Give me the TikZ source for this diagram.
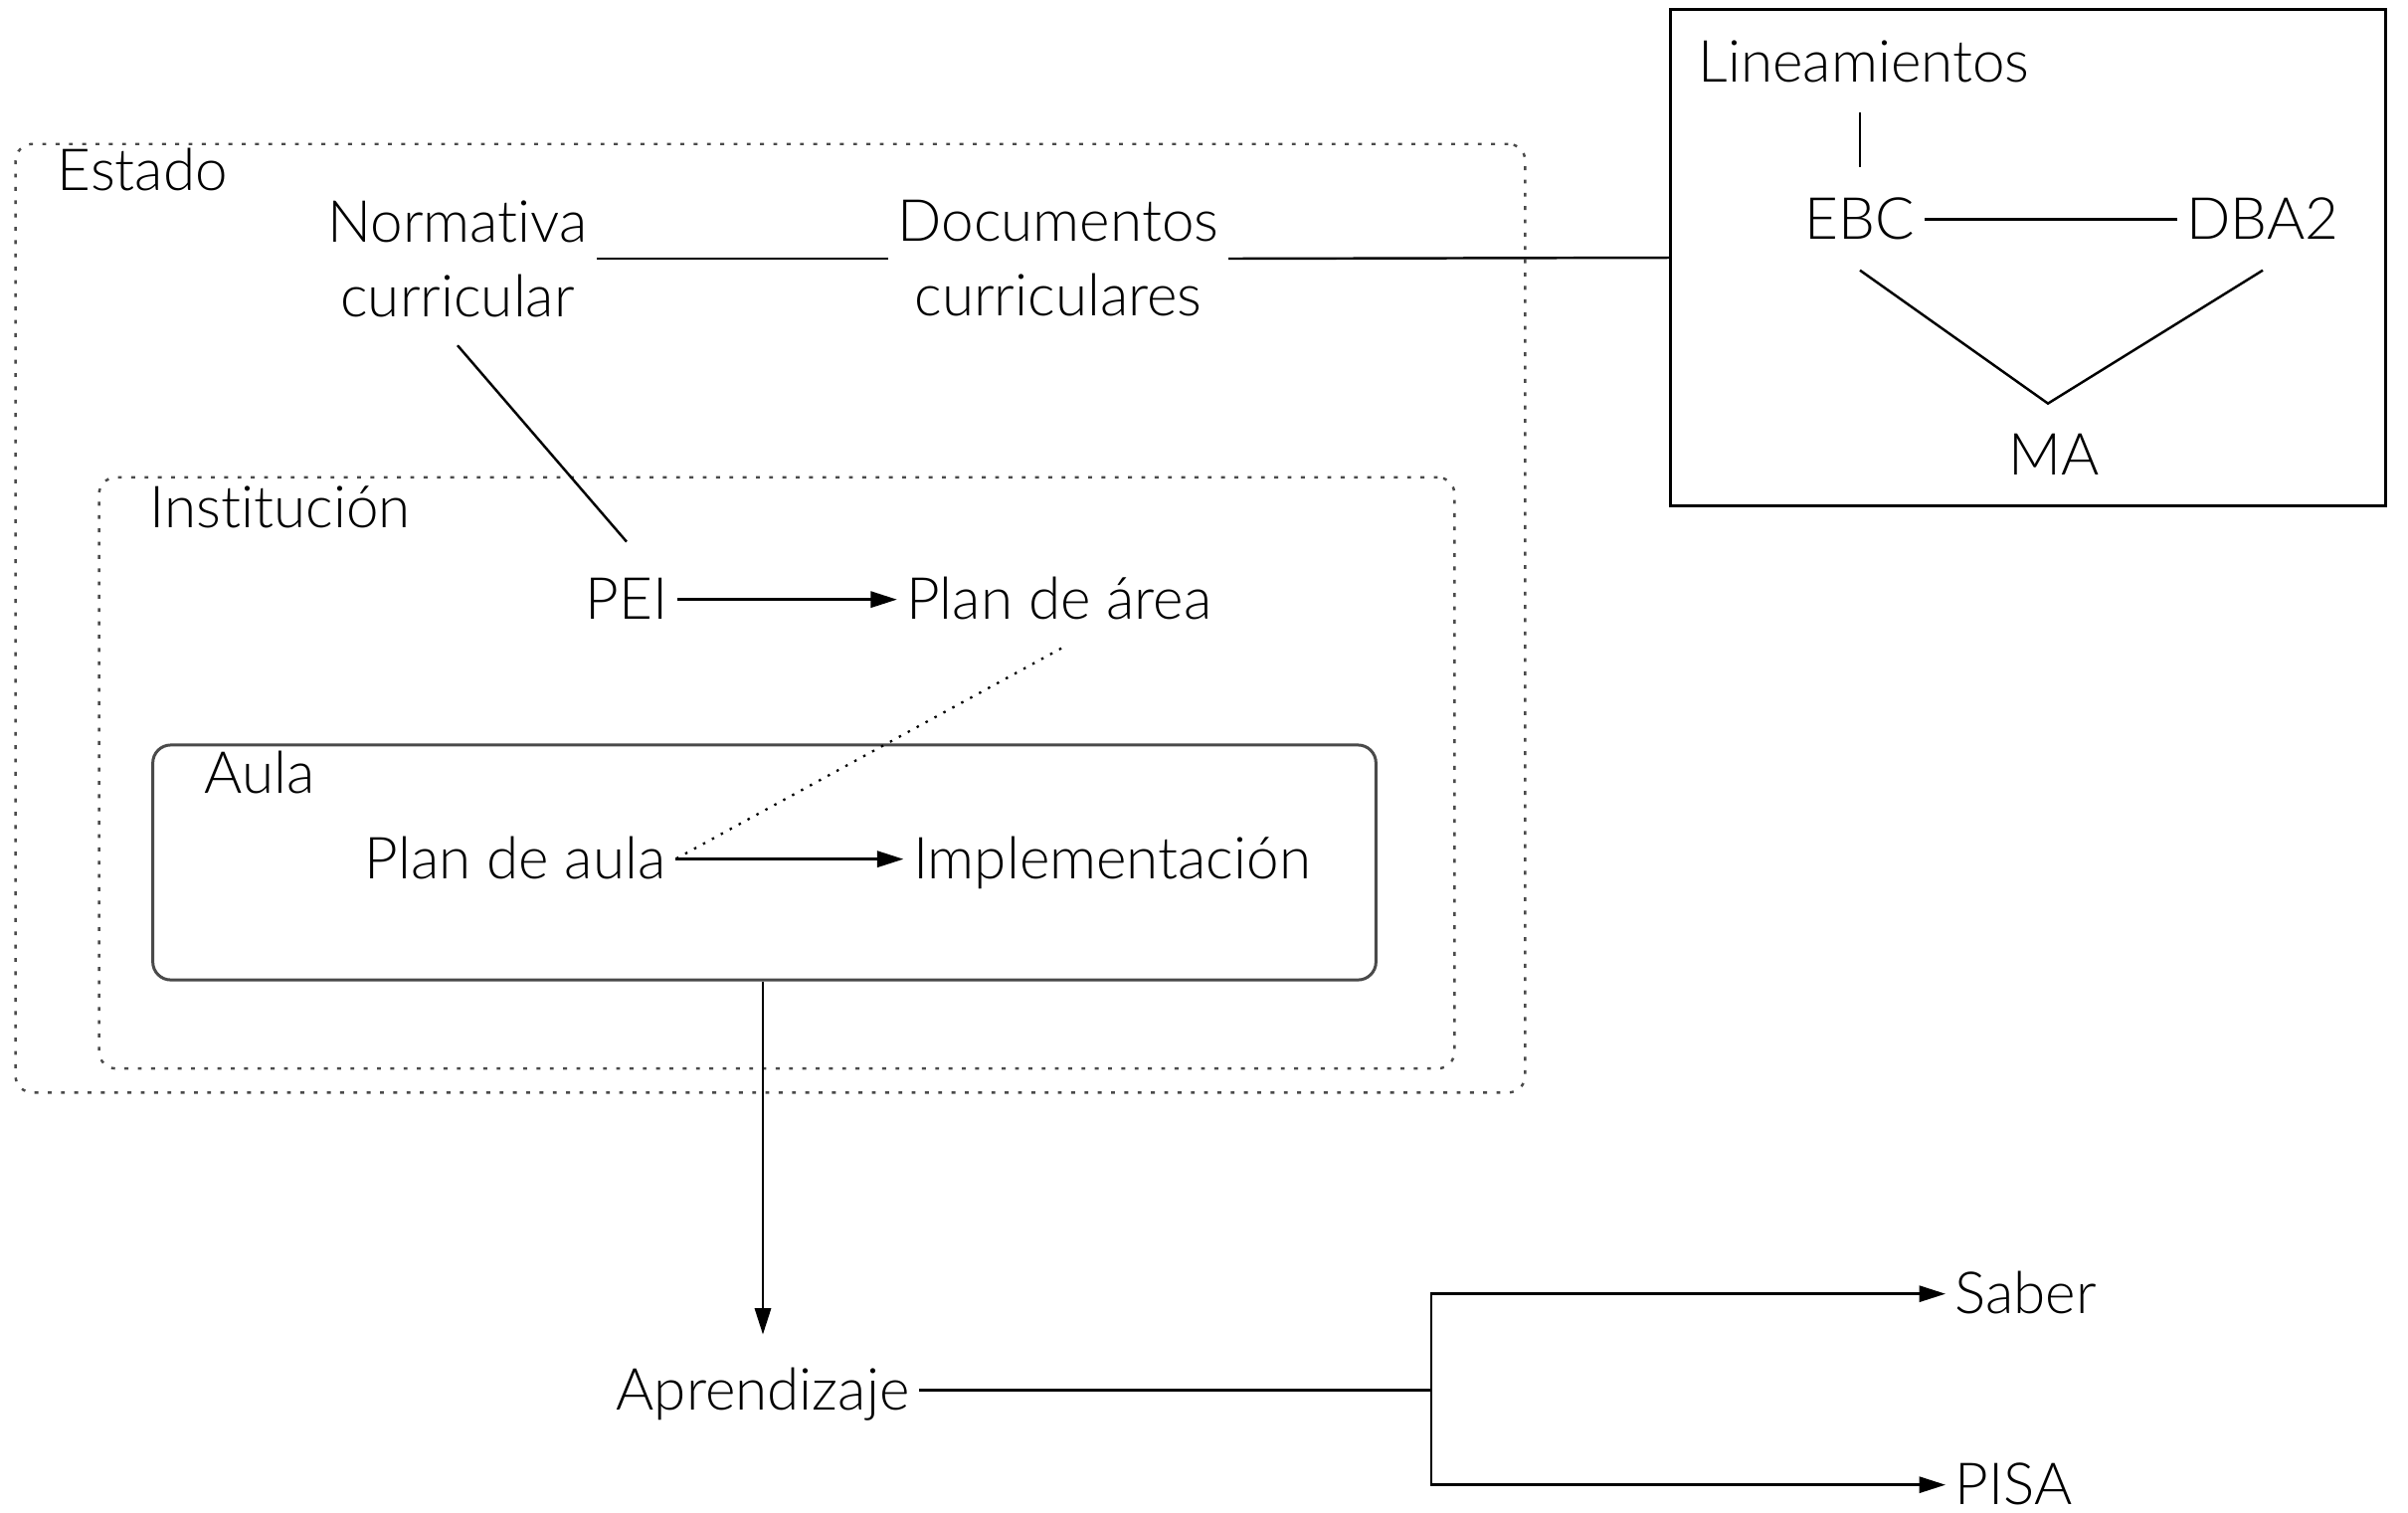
\documentclass[tikz,border=0pt]{standalone}
\usepackage{fontspec}
\setmainfont{Lato}[UprightFont={* Light}, Ligatures=NoCommon]
\usetikzlibrary{arrows.meta,calc}
\definecolor{zoneedge}{HTML}{4A4A4A}
\definecolor{aulaedge}{HTML}{4A4A4A}
\begin{document}
\begin{tikzpicture}[x=0.01cm,y=-0.01cm,
  txt/.style={font=\fontsize{16.6pt}{21.3pt}\selectfont, inner sep=0.09cm},
  lbl/.style={txt, text height=11pt, text depth=0pt},
  two/.style={txt, align=center},
  conn/.style={line width=0.7pt},
  arr/.style={conn, -{Triangle[length=7.5pt,width=4.6pt]}},
  zone/.style={draw=zoneedge, line width=0.7pt, dash pattern=on 1.1pt off 2.7pt, rounded corners=0.17cm},
  dots/.style={line width=0.65pt, dash pattern=on 0.7pt off 2.2pt}
]
\useasboundingbox (0,0) rectangle (2421,1520);

% nested frames
\node[zone, minimum width=15.17cm, minimum height=9.53cm] (estado) at (774.5,621.5) {};
\node[zone, minimum width=13.62cm, minimum height=5.94cm] (inst) at (781,777) {};
\node[draw=aulaedge, line width=0.85pt, rounded corners=0.18cm,
      minimum width=12.29cm, minimum height=2.36cm] (aula) at (768.5,867) {};
\node[draw, line width=0.85pt, minimum width=7.18cm, minimum height=4.98cm] (lbox) at (2039,259) {};

% frame titles
\node[lbl, anchor=base west] (estadoL) at (48,191) {Estado};
\node[lbl, anchor=base west] (instL) at (141,530) {Institución};
\node[lbl, anchor=base west] (aulaL) at (196,797) {Aula};
\node[lbl, anchor=base west] (linL) at (1698,82) {Lineamientos};

% concepts
\node[two] (norm) at (460,260) {Normativa\\curricular};
\node[two] (docs) at (1064,260) {Documentos\\curriculares};
\node[lbl, anchor=base] (pei) at (630,622) {PEI};
\node[lbl, anchor=base] (area) at (1065,622) {Plan de área};
\node[lbl, anchor=base] (paula) at (518,883) {Plan de aula};
\node[lbl, anchor=base] (impl) at (1118,883) {Implementación};
\node[lbl, anchor=base] (ebc) at (1870,240) {EBC};
\node[lbl, anchor=base] (dba) at (2275,240) {DBA2};
\node[lbl, anchor=base] (ma) at (2065,477) {MA};
\node[lbl, anchor=base] (apr) at (767,1417) {Aprendizaje};
\node[lbl, anchor=base west] (saber) at (1956,1320) {Saber};
\node[lbl, anchor=base west] (pisa) at (1956,1512) {PISA};

% helper points
\coordinate (vtx) at ($(ma.north)+(-6,-23)$);
\coordinate (brx) at (1439,0);
\coordinate (br) at (brx |- apr.east);

% connectors
\draw[conn] (norm) -- (docs);
\draw[conn] (docs.east) -- (lbox.west);
\draw[conn] ($(norm.south)+(0,19)$) -- ($(pei.north)+(0,-29)$);
\draw[arr] (pei) -- (area);
\draw[dots] ($(area.south)+(2,20)$) -- (paula.east);
\draw[arr] (paula) -- (impl);
\draw[conn] (ebc) -- (dba);
\draw[conn, shorten <=0.21cm, shorten >=0.24cm] (linL.south -| ebc.north) -- (ebc.north);
\draw[conn] ($(ebc.south)+(0,22)$) -- (vtx) -- ($(dba.south)+(0,22)$);
\draw[arr, shorten >=0.27cm] (aula.south -| apr.north) -- (apr.north);
\draw[conn] (apr.east) -- (br);
\draw[arr] (br) |- (saber.west);
\draw[arr] (br) |- (pisa.west);
\end{tikzpicture}
\end{document}
